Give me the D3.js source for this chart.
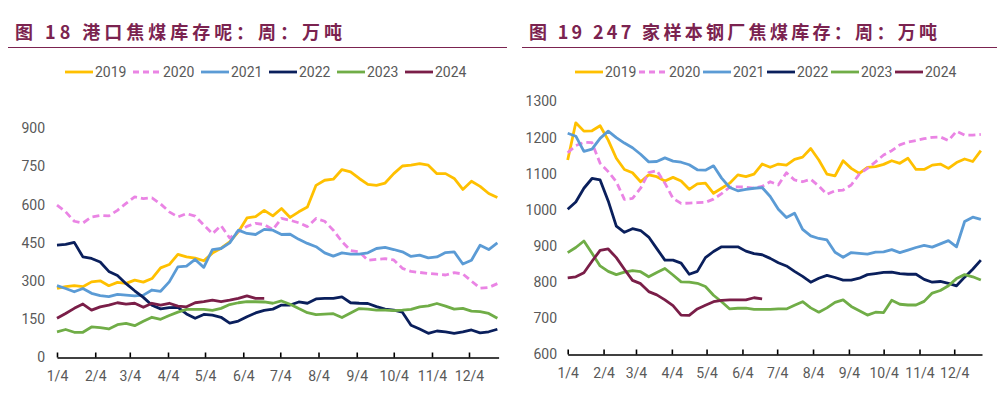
<!DOCTYPE html>
<meta charset="utf-8">
<style>
  body { margin: 0; background: #fff; }
  svg { display: block; }
  .tick text, .legend text { font-family: "Liberation Sans Narrow", "Roboto", sans-serif; fill: #595959; }
</style>
<script src="https://d3js.org/d3.v7.min.js"></script>
<div id="chart"></div>
<script>
// x axis: weekly points, first week = 1/4
var tickLabels = ["1/4","2/4","3/4","4/4","5/4","6/4","7/4","8/4","9/4","10/4","11/4","12/4"];
var years = ["2019","2020","2021","2022","2023","2024"];
var colors = ["#FFC000","#EA84E4","#5B9BD5","#0A1F5C","#70AD47","#7A1E48"];

// 图18 港口焦煤库存
var portTicks = [0,150,300,450,600,750,900];
var port2019 = [271,278,282,278,297,301,282,295,291,304,296,310,352,365,405,395,390,380,410,429,454,493,548,553,578,556,585,550,572,591,676,696,700,738,729,703,680,676,685,722,752,755,761,755,722,722,703,660,692,672,644,628];
var port2020 = [598,572,535,528,552,558,556,578,605,631,624,627,603,572,552,565,555,520,486,518,469,495,515,527,522,502,546,539,529,514,546,535,500,455,420,415,382,385,388,383,350,338,334,330,327,324,333,328,300,272,275,290];
var port2021 = [282,271,258,271,252,243,239,248,245,242,245,265,260,297,356,359,385,354,424,428,450,500,487,483,503,500,483,484,464,448,435,411,398,411,406,406,411,428,432,424,415,397,402,391,395,412,415,367,382,441,424,450];
var port2022 = [441,444,452,395,389,375,338,322,290,262,236,205,191,196,197,171,154,169,166,158,135,143,160,175,185,190,206,206,218,213,230,232,232,238,215,213,212,200,190,186,178,127,112,95,104,101,95,101,108,97,101,111];
var port2023 = [101,110,99,99,120,117,112,129,134,125,142,158,150,165,178,189,189,189,185,193,208,215,219,219,218,213,222,209,192,176,168,170,172,157,175,192,190,186,186,184,186,189,199,203,212,202,190,193,182,180,173,154];
var port2024 = [154,173,193,210,186,199,206,215,210,213,197,213,206,213,202,199,215,219,225,219,225,232,242,232,232];

// 图19 247家样本钢厂焦煤库存
var millTicks = [600,700,800,900,1000,1100,1200,1300];
var mill2019 = [1138,1241,1218,1219,1233,1193,1143,1112,1103,1078,1097,1092,1080,1090,1080,1057,1072,1074,1046,1060,1074,1097,1092,1099,1127,1118,1127,1124,1140,1146,1170,1138,1099,1094,1136,1115,1101,1118,1120,1126,1136,1129,1143,1112,1112,1124,1127,1115,1131,1141,1134,1164];
var mill2020 = [1158,1178,1187,1186,1129,1106,1078,1029,1032,1060,1103,1109,1074,1032,1018,1019,1020,1021,1030,1045,1063,1064,1063,1060,1065,1078,1069,1103,1083,1078,1085,1066,1043,1053,1055,1069,1099,1115,1133,1152,1164,1180,1188,1192,1197,1201,1202,1192,1218,1207,1207,1209];
var mill2021 = [1212,1204,1162,1168,1198,1218,1200,1185,1172,1154,1133,1134,1144,1135,1132,1125,1111,1110,1122,1088,1062,1053,1057,1060,1062,1037,1002,979,991,946,928,921,917,883,869,882,880,878,883,884,890,882,889,896,902,897,906,915,898,968,980,974];
var mill2022 = [1002,1022,1060,1087,1083,1025,955,938,948,943,925,893,861,861,853,822,830,868,885,898,898,898,886,879,876,866,854,845,830,816,800,811,819,813,806,806,811,821,824,827,828,824,822,822,808,800,802,797,790,814,836,861];
var mill2023 = [882,896,914,880,845,830,821,828,832,829,815,827,838,820,801,800,797,788,764,746,726,728,728,725,725,725,726,726,736,746,729,717,729,744,751,733,721,709,717,716,750,739,737,737,747,770,777,790,810,821,815,806];
var mill2024 = [812,815,826,858,888,892,868,836,805,796,774,765,751,735,709,708,726,736,746,750,751,751,751,757,754];

var firstDay = new Date(2019, 0, 4);
var lastDay = new Date(2019, 11, 28);
var weekDate = function(i) { return d3.timeDay.offset(firstDay, 7 * i); };
var tickDates = tickLabels.map(function(t) {
  var p = t.split("/");
  return new Date(2019, +p[0] - 1, +p[1]);
});

var svg = d3.select("#chart").append("svg")
  .attr("width", 1007)
  .attr("height", 393);

var renderChart = function(cfg) {
  var g = svg.append("g");

  // title + rule
  g.append("text")
    .attr("x", cfg.titleX)
    .attr("y", 39)
    .attr("textLength", cfg.titleW)
    .attr("lengthAdjust", "spacing")
    .attr("font-family", "'Noto Sans CJK SC', sans-serif")
    .attr("font-weight", "bold")
    .attr("font-size", "18px")
    .attr("fill", "#7B2350")
    .text(cfg.title);
  g.append("line")
    .attr("x1", cfg.ruleX[0]).attr("x2", cfg.ruleX[1])
    .attr("y1", 47.5).attr("y2", 47.5)
    .attr("stroke", "#7B2350")
    .attr("stroke-width", 1.2);

  var x = d3.scaleTime().domain([firstDay, lastDay]).range(cfg.xRange);
  var y = d3.scaleLinear().domain(cfg.yDomain).range(cfg.yRange);

  // y labels only
  var yAxis = g.append("g")
    .attr("transform", "translate(" + cfg.yLabelX + ",0)")
    .call(d3.axisLeft(y).tickValues(cfg.yTicks).tickFormat(d3.format("d")).tickSize(0).tickPadding(0));
  yAxis.select(".domain").remove();
  yAxis.selectAll("text").attr("font-size", "14px");

  // x axis, ticks pointing up
  var xAxis = g.append("g")
    .attr("transform", "translate(0," + y(cfg.yDomain[0]) + ")")
    .call(d3.axisBottom(x).tickValues(tickDates)
      .tickFormat(function(d, i) { return tickLabels[i]; })
      .tickSizeInner(-5).tickSizeOuter(0).tickPadding(14));
  xAxis.select(".domain").attr("stroke", "#000").attr("stroke-width", 1.6);
  xAxis.selectAll(".tick line").attr("stroke", "#000").attr("stroke-width", 1.6);
  xAxis.selectAll("text").attr("font-size", "14px");

  var line = d3.line()
    .x(function(d, i) { return x(weekDate(i)); })
    .y(function(d) { return y(d); });

  cfg.series.forEach(function(s, k) {
    g.append("path")
      .datum(s)
      .attr("fill", "none")
      .attr("stroke", colors[k])
      .attr("stroke-width", 2.8)
      .attr("stroke-linejoin", "round")
      .attr("stroke-dasharray", k == 1 ? "7,4" : null)
      .attr("d", line);
  });

  // legend
  var leg = g.append("g").attr("class", "legend");
  years.forEach(function(yr, k) {
    var lx = cfg.legendX + k * cfg.legendStep;
    leg.append("line")
      .attr("x1", lx).attr("x2", lx + 28)
      .attr("y1", 72).attr("y2", 72)
      .attr("stroke", colors[k])
      .attr("stroke-width", 2.8)
      .attr("stroke-dasharray", k == 1 ? "6,4" : null);
    leg.append("text")
      .attr("x", lx + 30)
      .attr("y", 77)
      .attr("font-size", "14px")
      .text(yr);
  });
};

renderChart({
  title: "图 18 港口焦煤库存呢：周：万吨",
  titleX: 15, titleW: 327, ruleX: [8, 507],
  xRange: [57, 498.6], yDomain: [0, 900], yRange: [357.5, 128.3],
  yTicks: portTicks, yLabelX: 45,
  legendX: 65, legendStep: 68,
  series: [port2019, port2020, port2021, port2022, port2023, port2024]
});

renderChart({
  title: "图 19 247 家样本钢厂焦煤库存：周：万吨",
  titleX: 529, titleW: 408, ruleX: [522, 997],
  xRange: [567.7, 982], yDomain: [600, 1300], yRange: [354.5, 101.5],
  yTicks: millTicks, yLabelX: 557,
  legendX: 575, legendStep: 64,
  series: [mill2019, mill2020, mill2021, mill2022, mill2023, mill2024]
});
</script>
